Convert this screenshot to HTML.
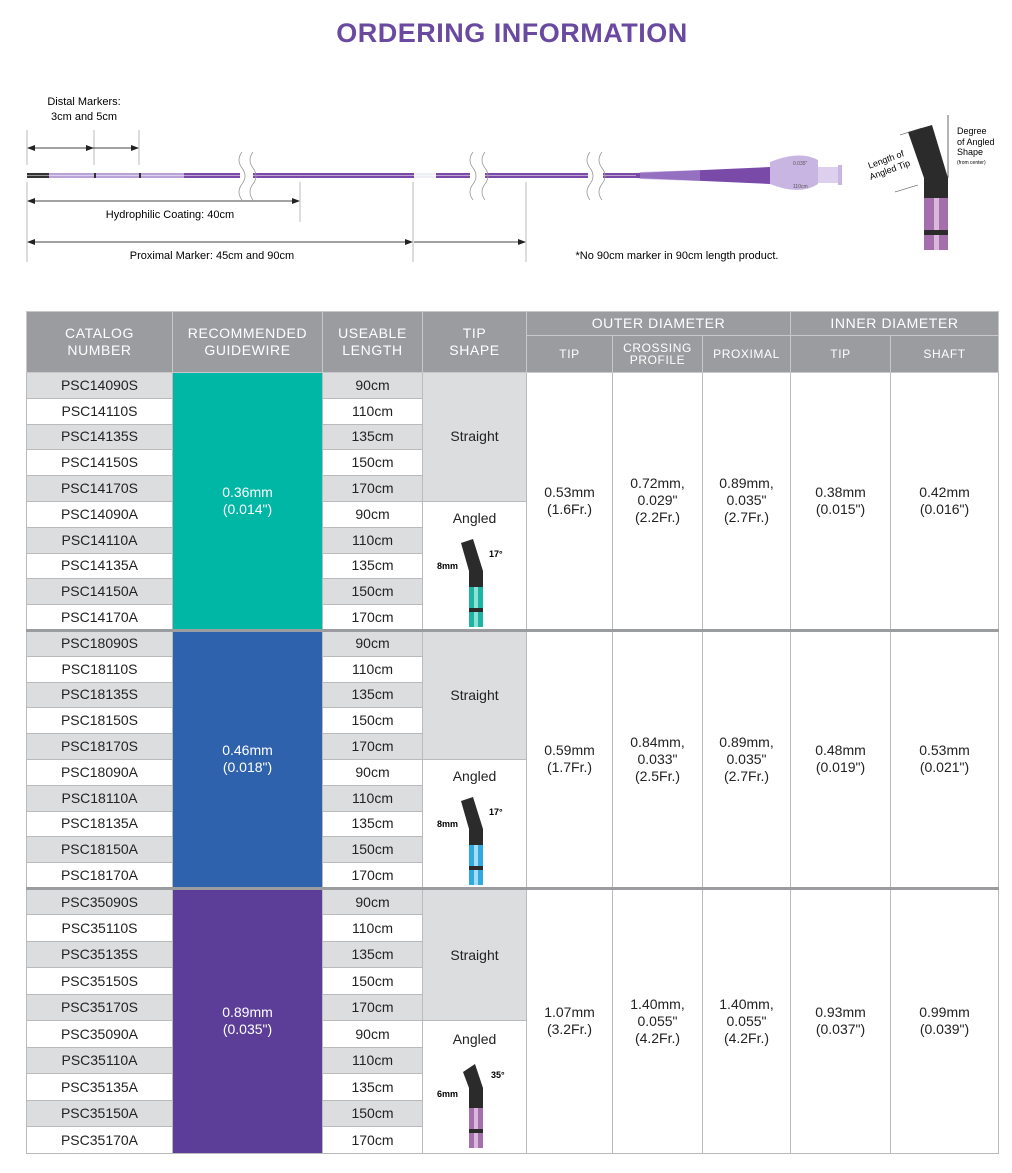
<!DOCTYPE html>
<html><head><meta charset="utf-8">
<style>
body{margin:0;width:1012px;height:1173px;background:#fff;font-family:"Liberation Sans",sans-serif;position:relative;overflow:hidden}
h1{position:absolute;top:18px;left:0;width:1024px;text-align:center;margin:0;font-size:27px;color:#6a4aa0;font-weight:bold;letter-spacing:0.5px}
table{position:absolute;left:26px;top:311px;border-collapse:collapse;table-layout:fixed;width:972px;font-size:14px;color:#222}
td,th{border:1px solid #b9babc;text-align:center;padding:0;line-height:17px}
th{background:#9b9c9f;color:#fff;font-weight:normal;letter-spacing:0.6px;font-size:14px;border-color:#c8c8ca}
th.s{font-size:12px;line-height:12px}
.g{background:#dcdddf}
.w{background:#fff}
.gw{color:#fff}
tr.sep td{border-top:3px solid #9b9c9f}
.tip{position:relative}
</style></head><body>
<h1>ORDERING INFORMATION</h1>

<svg width="1012" height="300" style="position:absolute;left:0;top:0" font-family="Liberation Sans" font-size="11">
<text x="84" y="105" text-anchor="middle">Distal Markers:</text>
<text x="84" y="120" text-anchor="middle">3cm and 5cm</text>
<g stroke="#bbb" stroke-width="1">
<line x1="27" y1="130" x2="27" y2="165"/><line x1="94" y1="130" x2="94" y2="165"/><line x1="139" y1="130" x2="139" y2="165"/>
<line x1="27" y1="182" x2="27" y2="262"/><line x1="300" y1="182" x2="300" y2="222"/><line x1="413" y1="182" x2="413" y2="262"/><line x1="526" y1="182" x2="526" y2="262"/>
</g>
<g stroke="#444" stroke-width="1">
<line x1="28" y1="148" x2="138" y2="148"/><line x1="28" y1="201" x2="299" y2="201"/><line x1="28" y1="242" x2="412" y2="242"/><line x1="414" y1="242" x2="525" y2="242"/>
</g>
<g fill="#222">
<polygon points="27,148 35,145 35,151"/><polygon points="94,148 86,145 86,151"/><polygon points="139,148 131,145 131,151"/>
<polygon points="27,201 35,198 35,204"/><polygon points="300,201 292,198 292,204"/>
<polygon points="27,242 35,239 35,245"/><polygon points="413,242 405,239 405,245"/><polygon points="526,242 518,239 518,245"/>
</g>
<text x="170" y="218" text-anchor="middle">Hydrophilic Coating: 40cm</text>
<text x="212" y="259" text-anchor="middle">Proximal Marker: 45cm and 90cm</text>
<text x="677" y="259" text-anchor="middle">*No 90cm marker in 90cm length product.</text>
<rect x="27" y="173" width="22" height="5" fill="#333"/>
<rect x="49" y="173" width="135" height="5" fill="#b9a3d8"/>
<rect x="184" y="173" width="230" height="5" fill="#7a4aa8"/>
<rect x="414" y="173" width="22" height="5" fill="#eef0f6"/>
<rect x="436" y="173" width="200" height="5" fill="#7a4aa8"/>
<line x1="27" y1="175.5" x2="636" y2="175.5" stroke="#fff" stroke-opacity=".5" stroke-width="1"/>
<rect x="94" y="173" width="2" height="5" fill="#333"/><rect x="139" y="173" width="2" height="5" fill="#333"/>
<polygon points="636,173 770,167 770,184 636,178" fill="#7a4aa8"/>
<path d="M640 172 L 700 170 L700 181 L640 179Z" fill="#a98bd0" opacity=".6"/>
<path d="M770 162 Q800 150 818 160 L 818 184 Q800 196 770 184Z" fill="#c9b5e2"/>
<rect x="818" y="167" width="20" height="16" fill="#ddd0ee"/>
<rect x="838" y="165" width="4" height="20" fill="#c9b5e2"/>
<text x="793" y="165" font-size="5" fill="#555">0.035"</text><text x="793" y="188" font-size="5" fill="#555">110cm</text>
<g fill="#fff" stroke="none">
<rect x="240" y="160" width="13" height="30"/><rect x="470" y="160" width="15" height="30"/><rect x="588" y="153" width="15" height="40"/>
</g>
<g fill="none" stroke="#999" stroke-width="0.8">
<path d="M242 152 q-6 8 0 16 q6 8 0 16 q-6 8 0 16"/><path d="M253 152 q-6 8 0 16 q6 8 0 16 q-6 8 0 16"/>
<path d="M473 152 q-6 8 0 16 q6 8 0 16 q-6 8 0 16"/><path d="M485 152 q-6 8 0 16 q6 8 0 16 q-6 8 0 16"/>
<path d="M590 152 q-6 8 0 16 q6 8 0 16 q-6 8 0 16"/><path d="M602 152 q-6 8 0 16 q6 8 0 16 q-6 8 0 16"/>
</g>
<polygon points="908,132 932,125 948,178 948,198 924,198 924,178" fill="#2b2b2b"/>
<rect x="924" y="198" width="24" height="52" fill="#a56fae"/>
<rect x="934" y="198" width="5" height="52" fill="#d9b8dc"/>
<rect x="924" y="230" width="24" height="5" fill="#2b2b2b"/>
<line x1="948" y1="115" x2="948" y2="178" stroke="#444" stroke-width=".8"/>
<line x1="900" y1="135" x2="922" y2="128" stroke="#444" stroke-width=".6"/>
<line x1="895" y1="192" x2="918" y2="185" stroke="#444" stroke-width=".6"/>
<text x="957" y="134" font-size="9">Degree</text><text x="957" y="145" font-size="9">of Angled</text><text x="957" y="155" font-size="9">Shape</text><text x="957" y="164" font-size="5">(from center)</text>
<g transform="translate(889,168) rotate(-20)" font-size="9"><text x="0" y="-6" text-anchor="middle">Length of</text><text x="0" y="5" text-anchor="middle">Angled Tip</text></g>
</svg>

<table>
<colgroup><col style="width:146px"><col style="width:150px"><col style="width:100px"><col style="width:104px"><col style="width:86px"><col style="width:90px"><col style="width:88px"><col style="width:100px"><col style="width:108px"></colgroup>
<tr style="height:24px"><th rowspan="2">CATALOG<br>NUMBER</th><th rowspan="2">RECOMMENDED<br>GUIDEWIRE</th><th rowspan="2">USEABLE<br>LENGTH</th><th rowspan="2">TIP<br>SHAPE</th><th colspan="3">OUTER DIAMETER</th><th colspan="2">INNER DIAMETER</th></tr>
<tr style="height:37px"><th class="s">TIP</th><th class="s">CROSSING<br>PROFILE</th><th class="s">PROXIMAL</th><th class="s">TIP</th><th class="s">SHAFT</th></tr>

<tr style="height:25.8px"><td class="g">PSC14090S</td><td rowspan="10" class="gw" style="background:#00b6a5">0.36mm<br>(0.014")</td><td class="g">90cm</td><td rowspan="5" class="g">Straight</td><td rowspan="10">0.53mm<br>(1.6Fr.)</td><td rowspan="10">0.72mm,<br>0.029"<br>(2.2Fr.)</td><td rowspan="10">0.89mm,<br>0.035"<br>(2.7Fr.)</td><td rowspan="10">0.38mm<br>(0.015")</td><td rowspan="10">0.42mm<br>(0.016")</td></tr>
<tr style="height:25.8px"><td>PSC14110S</td><td>110cm</td></tr>
<tr style="height:25.8px"><td class="g">PSC14135S</td><td class="g">135cm</td></tr>
<tr style="height:25.8px"><td>PSC14150S</td><td>150cm</td></tr>
<tr style="height:25.8px"><td class="g">PSC14170S</td><td class="g">170cm</td></tr>
<tr style="height:25.8px"><td>PSC14090A</td><td>90cm</td><td rowspan="5" class="tip" style="vertical-align:top;padding-top:8px">Angled<svg width="104" height="100" style="display:block" font-size="9" font-weight="bold"><polygon points="38,16 50,12 60,44 60,60 46,60 46,44" fill="#2b2b2b"/><rect x="46" y="60" width="14" height="40" fill="#1db5a2"/><rect x="51" y="60" width="4" height="40" fill="#8fe0d6"/><rect x="46" y="81" width="14" height="4" fill="#2b2b2b"/><text x="14" y="42">8mm</text><text x="66" y="30">17°</text></svg></td></tr>
<tr style="height:25.8px"><td class="g">PSC14110A</td><td class="g">110cm</td></tr>
<tr style="height:25.8px"><td>PSC14135A</td><td>135cm</td></tr>
<tr style="height:25.8px"><td class="g">PSC14150A</td><td class="g">150cm</td></tr>
<tr style="height:25.8px"><td>PSC14170A</td><td>170cm</td></tr>

<tr class="sep" style="height:25.8px"><td class="g">PSC18090S</td><td rowspan="10" class="gw" style="background:#2f62ad">0.46mm<br>(0.018")</td><td class="g">90cm</td><td rowspan="5" class="g">Straight</td><td rowspan="10">0.59mm<br>(1.7Fr.)</td><td rowspan="10">0.84mm,<br>0.033"<br>(2.5Fr.)</td><td rowspan="10">0.89mm,<br>0.035"<br>(2.7Fr.)</td><td rowspan="10">0.48mm<br>(0.019")</td><td rowspan="10">0.53mm<br>(0.021")</td></tr>
<tr style="height:25.8px"><td>PSC18110S</td><td>110cm</td></tr>
<tr style="height:25.8px"><td class="g">PSC18135S</td><td class="g">135cm</td></tr>
<tr style="height:25.8px"><td>PSC18150S</td><td>150cm</td></tr>
<tr style="height:25.8px"><td class="g">PSC18170S</td><td class="g">170cm</td></tr>
<tr style="height:25.8px"><td>PSC18090A</td><td>90cm</td><td rowspan="5" class="tip" style="vertical-align:top;padding-top:8px">Angled<svg width="104" height="100" style="display:block" font-size="9" font-weight="bold"><polygon points="38,16 50,12 60,44 60,60 46,60 46,44" fill="#2b2b2b"/><rect x="46" y="60" width="14" height="40" fill="#2fa9df"/><rect x="51" y="60" width="4" height="40" fill="#a6dcf4"/><rect x="46" y="81" width="14" height="4" fill="#2b2b2b"/><text x="14" y="42">8mm</text><text x="66" y="30">17°</text></svg></td></tr>
<tr style="height:25.8px"><td class="g">PSC18110A</td><td class="g">110cm</td></tr>
<tr style="height:25.8px"><td>PSC18135A</td><td>135cm</td></tr>
<tr style="height:25.8px"><td class="g">PSC18150A</td><td class="g">150cm</td></tr>
<tr style="height:25.8px"><td>PSC18170A</td><td>170cm</td></tr>

<tr class="sep" style="height:26.5px"><td class="g">PSC35090S</td><td rowspan="10" class="gw" style="background:#5c3e98">0.89mm<br>(0.035")</td><td class="g">90cm</td><td rowspan="5" class="g">Straight</td><td rowspan="10">1.07mm<br>(3.2Fr.)</td><td rowspan="10">1.40mm,<br>0.055"<br>(4.2Fr.)</td><td rowspan="10">1.40mm,<br>0.055"<br>(4.2Fr.)</td><td rowspan="10">0.93mm<br>(0.037")</td><td rowspan="10">0.99mm<br>(0.039")</td></tr>
<tr style="height:26.5px"><td>PSC35110S</td><td>110cm</td></tr>
<tr style="height:26.5px"><td class="g">PSC35135S</td><td class="g">135cm</td></tr>
<tr style="height:26.5px"><td>PSC35150S</td><td>150cm</td></tr>
<tr style="height:26.5px"><td class="g">PSC35170S</td><td class="g">170cm</td></tr>
<tr style="height:26.5px"><td>PSC35090A</td><td>90cm</td><td rowspan="5" class="tip" style="vertical-align:top;padding-top:10px">Angled<svg width="104" height="100" style="display:block" font-size="9" font-weight="bold"><polygon points="40,24 52,16 60,40 60,60 46,60 46,40" fill="#2b2b2b"/><rect x="46" y="60" width="14" height="40" fill="#a56fae"/><rect x="51" y="60" width="4" height="40" fill="#d9b8dc"/><rect x="46" y="81" width="14" height="4" fill="#2b2b2b"/><text x="14" y="49">6mm</text><text x="68" y="30">35°</text></svg></td></tr>
<tr style="height:26.5px"><td class="g">PSC35110A</td><td class="g">110cm</td></tr>
<tr style="height:26.5px"><td>PSC35135A</td><td>135cm</td></tr>
<tr style="height:26.5px"><td class="g">PSC35150A</td><td class="g">150cm</td></tr>
<tr style="height:26.5px"><td>PSC35170A</td><td>170cm</td></tr>
</table>
</body></html>
